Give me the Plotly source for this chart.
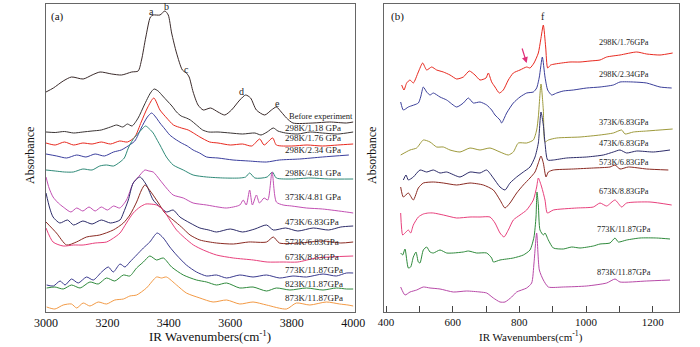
import plotly.graph_objects as go

# ---------------- Panel (a): 3000-4000 cm-1 ----------------
a_before_x = [3000,3024,3056,3083,3121,3150,3176,3214,3246,3279,3300,3311,3325,3340,3349,3371,3387,3398,3409,3425,3444,3457,3466,3479,3495,3512,3536,3560,3582,3604,3631,3650,3666,3685,3712,3734,3750,3766,3783,3804,3869,3924,3978,4000]
a_before_y = [220,224,231,235,233,237,240,238,237,240,241,252,275,295,297,297,301,297,279,259,242,239,235,220,207,202,204,200,197,202,212,217,214,202,197,202,205,200,194,189,189,190,189,190]

a_118_x = [3000,3030,3060,3090,3120,3150,3180,3210,3230,3250,3265,3280,3300,3320,3340,3352,3365,3380,3395,3410,3425,3440,3457,3470,3490,3510,3530,3560,3600,3640,3680,3700,3720,3740,3755,3780,3820,3860,3900,3950,4000]
a_118_y = [180,179.5,180.5,179,180,181,182,185,187,185,188,186,194,207,219,223,221,216,211,206,200,196,194,192,187,182,180,180,179,178,179,177,180,184,181,179,178,180,179,178,180]

a_176_x = [3000,3030,3060,3090,3120,3150,3180,3210,3240,3265,3289,3310,3330,3351,3371,3393,3415,3441,3463,3480,3501,3533,3560,3600,3640,3670,3696,3710,3738,3750,3800,3850,3900,3950,4000]
a_176_y = [169,167,170,167,169,168,170,168,171,170,175,190,204,214,202,194,187,184,182,179,175,170,169,167,168,166,173,167,174,167,166,167,166,167,168]

a_234_x = [3000,3035,3067,3100,3130,3160,3190,3220,3245,3262,3289,3310,3330,3344,3357,3371,3387,3403,3420,3441,3460,3479,3500,3523,3560,3609,3660,3718,3760,3826,3900,3986]
a_234_y = [158,156,154,157,155,158,156,160,162,165,171,184,195,199,195,189,183,177,173,169,166,162,159,155,154,152,151,150,152,153,155,157]

a_481_x = [3000,3030,3060,3089,3120,3150,3175,3197,3220,3241,3255,3268,3282,3295,3310,3324,3337,3349,3360,3371,3392,3414,3447,3479,3523,3580,3631,3650,3663,3680,3720,3737,3750,3800,3860,3920,4000]
a_481_y = [142,141,140,140,143,142,146,147,146,150,154,164,172,177,182,186,183,179,173,167,155,147,142,137,135,134,134,135,139,134,135,140,134,133,134,133,133]

a_373_x = [3000,3010,3023,3040,3056,3081,3100,3120,3140,3160,3180,3200,3220,3240,3262,3284,3306,3322,3335,3349,3371,3392,3414,3447,3479,3523,3560,3588,3631,3642,3652,3663,3672,3685,3695,3710,3722,3736,3750,3772,3800,3848,3900,3978,4000]
a_373_y = [135,124,115,109,105,100,104,101,105,101,105,102,106,104,112,129,137,142,141,140,132,124,117,114,109,107,105,104,107,112,107,122,107,117,109,114,112,140,110,107,106,104,103,100,99]

a_473_x = [3000,3012,3023,3045,3070,3090,3120,3150,3180,3210,3241,3252,3268,3284,3306,3327,3349,3371,3393,3414,3436,3469,3501,3530,3555,3600,3640,3680,3718,3740,3780,3820,3870,3920,3960,4000]
a_473_y = [119,104,95,89,92,87,91,88,92,89,92,99,112,129,135,127,112,105,100,102,95,89,84,82,80,83,80,83,87,82,84,81,84,82,85,86]

a_573_x = [3000,3034,3067,3099,3132,3175,3219,3252,3273,3295,3311,3322,3344,3366,3387,3414,3441,3469,3501,3555,3610,3660,3718,3740,3760,3826,3900,3960,4000]
a_573_y = [90,79,67,70,75,77,82,89,97,110,122,127,119,109,99,92,85,77,72,69,68,70,70,75,69,69,71,69,70]

a_673_x = [3000,3023,3056,3090,3121,3160,3197,3220,3241,3262,3284,3306,3325,3338,3360,3382,3403,3425,3452,3480,3512,3555,3610,3675,3720,3772,3820,3880,4000]
a_673_y = [84,70,66,67,67,69,70,74,79,89,99,105,108,108,107,102,92,82,74,67,62,57,54,52,50,50,50,54,56]

a_773_x = [3002,3024,3046,3062,3083,3105,3132,3154,3181,3203,3219,3241,3257,3273,3295,3317,3338,3362,3382,3403,3425,3457,3490,3523,3555,3588,3631,3674,3718,3761,3804,3848,3902,3945,3978,4000]
a_773_y = [27,26,31,27,33,29,35,32,40,45,40,48,45,50,57,64,70,79,74,65,57,47,40,36,37,34,37,35,37,34,36,35,38,36,39,39]

a_823_x = [3002,3029,3056,3083,3111,3143,3170,3197,3224,3252,3273,3295,3317,3338,3360,3382,3409,3447,3490,3523,3555,3588,3631,3674,3718,3750,3794,3848,3902,3945,3978,4000]
a_823_y = [24,25,23,27,24,30,28,34,31,37,36,44,50,56,52,54,45,37,32,30,27,29,24,25,21,24,22,24,22,24,23,23]

a_873_x = [3002,3029,3056,3083,3100,3121,3143,3170,3197,3224,3252,3273,3295,3327,3360,3376,3392,3425,3457,3501,3544,3588,3631,3674,3718,3783,3815,3859,3913,3956,3983,4000]
a_873_y = [5,3,7,8,4,9,6,10,8,12,13,16,17,24,35,34,35,27,19,14,10,12,8,10,7,3,9,7,10,8,7,6]

a_names = ["Before experiment","298K/1.18 GPa","298K/1.76 GPa","298K/2.34 GPa","298K/4.81 GPa","373K/4.81 GPa",
           "473K/6.83GPa","573K/6.83GPa","673K/8.83GPa","773K/11.87GPa","823K/11.87GPa","873K/11.87GPa"]
a_label_y = [196,184,174,162,139,115,90,70,55,42,28,14]
a_colors = ["#3b2b2b","#3a3434","#e8291f","#3b3f9e","#2f8a78","#c250b3","#2e2d6a","#8a2a22","#e8407c","#3a3a8e","#2f8a3c","#f39a45"]

peak_letters = ["a","b","c","d","e"]
peak_x = [3342,3392,3457,3637,3753]
peak_y = [300,305,243,221,209]

# ---------------- Panel (b): 400-1280 cm-1 ----------------
b_176_x = [447,454,462,472,482,497,510,522,537,552,572,592,612,632,650,667,682,700,707,717,727,740,752,767,782,802,822,832,844,857,864,872,879,885,894,907,927,952,982,1012,1042,1062,1102,1152,1182,1222,1260]
b_176_y = [227,222,229,232,229,240,249,242,245,242,240,237,233,235,241,237,232,234,239,230,225,219,222,232,239,242,245,244,249,259,272,287,265,244,247,248,249,250,250,251,252,255,257,260,258,257,259]

b_234_x = [444,452,467,497,504,512,522,532,542,562,582,612,632,647,662,682,702,717,727,742,747,762,782,802,822,842,852,860,869,877,885,897,912,932,962,1002,1042,1082,1102,1142,1182,1222,1257]
b_234_y = [210,202,205,209,215,225,220,217,219,215,212,205,209,214,209,210,207,202,197,192,189,199,209,215,219,220,224,235,255,235,222,217,219,221,222,224,225,227,230,230,229,225,224]

b_373_x = [444,472,492,512,532,552,572,592,622,652,682,712,742,767,782,797,822,842,852,857,865,872,877,887,912,982,1042,1082,1107,1117,1142,1182,1260]
b_373_y = [157,162,164,172,170,165,165,162,160,164,162,164,160,157,160,169,169,172,182,195,228,202,170,172,174,175,177,179,182,178,180,181,183]

b_473_x = [452,460,467,482,502,522,542,562,582,622,652,682,702,722,742,757,772,792,812,832,847,857,865,872,877,885,902,942,1002,1052,1082,1102,1122,1152,1202,1252]
b_473_y = [132,137,132,135,142,140,142,139,140,135,140,139,142,134,125,122,129,135,140,145,155,169,200,187,169,152,152,154,155,157,160,162,159,161,160,162]

b_573_x = [444,452,467,482,497,512,542,572,612,652,692,722,742,757,772,792,812,832,847,857,865,872,880,887,902,962,1022,1072,1087,1102,1127,1182,1247]
b_573_y = [125,115,119,112,124,129,130,129,127,129,127,122,112,104,109,119,127,134,140,149,156,149,135,140,142,143,144,145,147,143,145,143,142]

b_673_x = [444,450,457,467,474,482,497,512,527,542,572,612,652,682,712,727,742,754,767,782,802,822,842,852,857,867,877,884,902,972,1022,1042,1062,1087,1107,1122,1192,1257]
b_673_y = [99,77,79,82,79,87,95,98,99,99,97,94,95,95,95,89,79,75,82,92,97,102,112,125,134,125,112,99,102,104,105,109,106,112,105,109,110,107]

b_773_x = [444,450,457,467,474,482,490,497,502,512,522,532,542,562,582,602,632,647,672,702,717,722,742,782,812,832,844,850,853,857,862,872,877,887,902,932,957,982,1022,1042,1072,1087,1097,1122,1162,1212,1252]
b_773_y = [59,57,63,44,45,55,60,50,49,62,65,60,59,62,59,59,60,61,59,59,54,50,52,54,57,62,75,95,120,107,82,77,79,72,64,63,65,64,66,68,69,74,70,72,74,74,73]

b_873_x = [444,457,472,492,512,532,562,602,642,682,702,722,742,757,777,792,822,837,844,852,860,872,887,932,1002,1062,1087,1102,1182,1252]
b_873_y = [25,17,20,22,25,24,23,20,21,20,19,14,10,10,15,20,24,29,49,79,42,32,25,25,26,29,33,30,31,32]

b_names = ["298K/1.76GPa","298K/2.34GPa","373K/6.83GPa","473K/6.83GPa","573K/6.83GPa","673K/8.83GPa","773K/11.87GPa","873K/11.87GPa"]
b_label_x = [1033,1033,1033,1033,1033,1033,1027,1027]
b_label_y = [269,238,190,169,150,121,83,40]
b_colors = ["#e8291f","#3b3f9a","#9e9a3c","#2e2d6a","#8a2a22","#e8407c","#2f8a3c","#b84aa8"]

a_xticks = [3000,3200,3400,3600,3800,4000]
b_xticks = [400,600,800,1000,1200]

FONT = "Liberation Serif, Times New Roman, serif"

fig = go.Figure()
a_series = [(a_before_x,a_before_y),(a_118_x,a_118_y),(a_176_x,a_176_y),(a_234_x,a_234_y),(a_481_x,a_481_y),
            (a_373_x,a_373_y),(a_473_x,a_473_y),(a_573_x,a_573_y),(a_673_x,a_673_y),(a_773_x,a_773_y),
            (a_823_x,a_823_y),(a_873_x,a_873_y)]
for (xs, ys), name, col in zip(a_series, a_names, a_colors):
    fig.add_trace(go.Scatter(x=xs, y=ys, mode="lines", name=name, xaxis="x", yaxis="y",
                             line=dict(color=col, width=1, shape="spline", smoothing=0.7)))
b_series = [(b_176_x,b_176_y),(b_234_x,b_234_y),(b_373_x,b_373_y),(b_473_x,b_473_y),(b_573_x,b_573_y),
            (b_673_x,b_673_y),(b_773_x,b_773_y),(b_873_x,b_873_y)]
for (xs, ys), name, col in zip(b_series, b_names, b_colors):
    fig.add_trace(go.Scatter(x=xs, y=ys, mode="lines", name=name, xaxis="x2", yaxis="y2",
                             line=dict(color=col, width=1, shape="spline", smoothing=0.6)))

ann = []
for name, yv in zip(a_names, a_label_y):
    ann.append(dict(x=3783 if name.startswith("Before") else 3771, y=yv, xref="x", yref="y", text=name,
                    showarrow=False, xanchor="left", yanchor="middle",
                    font=dict(family=FONT, size=9 if not name.startswith("Before") else 8.5, color="#222")))
for t, xv, yv in zip(peak_letters, peak_x, peak_y):
    ann.append(dict(x=xv, y=yv, xref="x", yref="y", text=t, showarrow=False, xanchor="center", yanchor="middle",
                    font=dict(family=FONT, size=10, color="#222")))
for name, xv, yv in zip(b_names, b_label_x, b_label_y):
    ann.append(dict(x=xv, y=yv, xref="x2", yref="y2", text=name, showarrow=False,
                    xanchor="left", yanchor="middle", font=dict(family=FONT, size=8.3, color="#222")))
ann.append(dict(x=871, y=295, xref="x2", yref="y2", text="f", showarrow=False, xanchor="center", yanchor="middle",
                font=dict(family=FONT, size=10, color="#222")))
# pink arrow pointing at a shoulder
ann.append(dict(x=822, y=249, ax=807, ay=265, xref="x2", yref="y2", axref="x2", ayref="y2", text="",
                showarrow=True, arrowhead=2, arrowsize=1, arrowwidth=1.2, arrowcolor="#e0307a"))
# panel letters
ann.append(dict(x=57.5/700, y=1-16/347, xref="paper", yref="paper", text="(a)", showarrow=False,
                xanchor="center", yanchor="middle", font=dict(family=FONT, size=11, color="#111")))
ann.append(dict(x=397.5/700, y=1-16/347, xref="paper", yref="paper", text="(b)", showarrow=False,
                xanchor="center", yanchor="middle", font=dict(family=FONT, size=11, color="#111")))
# axis titles
ann.append(dict(x=30/700, y=1-156/347, xref="paper", yref="paper", text="Absorbance", textangle=-90,
                xanchor="center", yanchor="middle", showarrow=False, font=dict(family=FONT, size=12, color="#111")))
ann.append(dict(x=372/700, y=1-156/347, xref="paper", yref="paper", text="Absorbance", textangle=-90,
                xanchor="center", yanchor="middle", showarrow=False, font=dict(family=FONT, size=12, color="#111")))
ann.append(dict(x=210/700, y=1-336/347, xref="paper", yref="paper", text="IR Wavenumbers(cm<sup>-1</sup>)",
                xanchor="center", yanchor="middle", showarrow=False, font=dict(family=FONT, size=13, color="#111")))
ann.append(dict(x=531/700, y=1-336/347, xref="paper", yref="paper", text="IR Wavenumbers(cm<sup>-1</sup>)",
                xanchor="center", yanchor="middle", showarrow=False, font=dict(family=FONT, size=11, color="#111")))

axis_line = dict(showline=True, linecolor="#666", linewidth=1, mirror=True, showgrid=False, zeroline=False,
                 automargin=False)
fig.update_layout(
    width=700, height=347, margin=dict(l=0, r=0, t=0, b=0, pad=0, autoexpand=False),
    paper_bgcolor="white", plot_bgcolor="white", showlegend=False,
    xaxis=dict(domain=[46/700, 355/700], range=[3000, 4006], tickvals=a_xticks, ticks="",
               tickfont=dict(family=FONT, size=12, color="#111"), anchor="y", **axis_line),
    yaxis=dict(domain=[1-312/347, 1-4/347], range=[0, 308], showticklabels=False, ticks="", anchor="x", **axis_line),
    xaxis2=dict(domain=[384/700, 679/700], range=[394, 1279], tickvals=b_xticks, ticks="inside", ticklen=6,
                tickcolor="#444", minor=dict(dtick=100, tick0=0, ticks="inside", ticklen=6, tickcolor="#444"),
                tickfont=dict(family=FONT, size=11, color="#111"), anchor="y2", **axis_line),
    yaxis2=dict(domain=[1-312/347, 1-4/347], range=[0, 308], showticklabels=False, ticks="", anchor="x2", **axis_line),
    annotations=ann,
)
fig.write_html("out.html", config={"displayModeBar": False, "staticPlot": True},
               post_script="document.body.style.margin='0px';document.body.style.overflow='hidden';")
